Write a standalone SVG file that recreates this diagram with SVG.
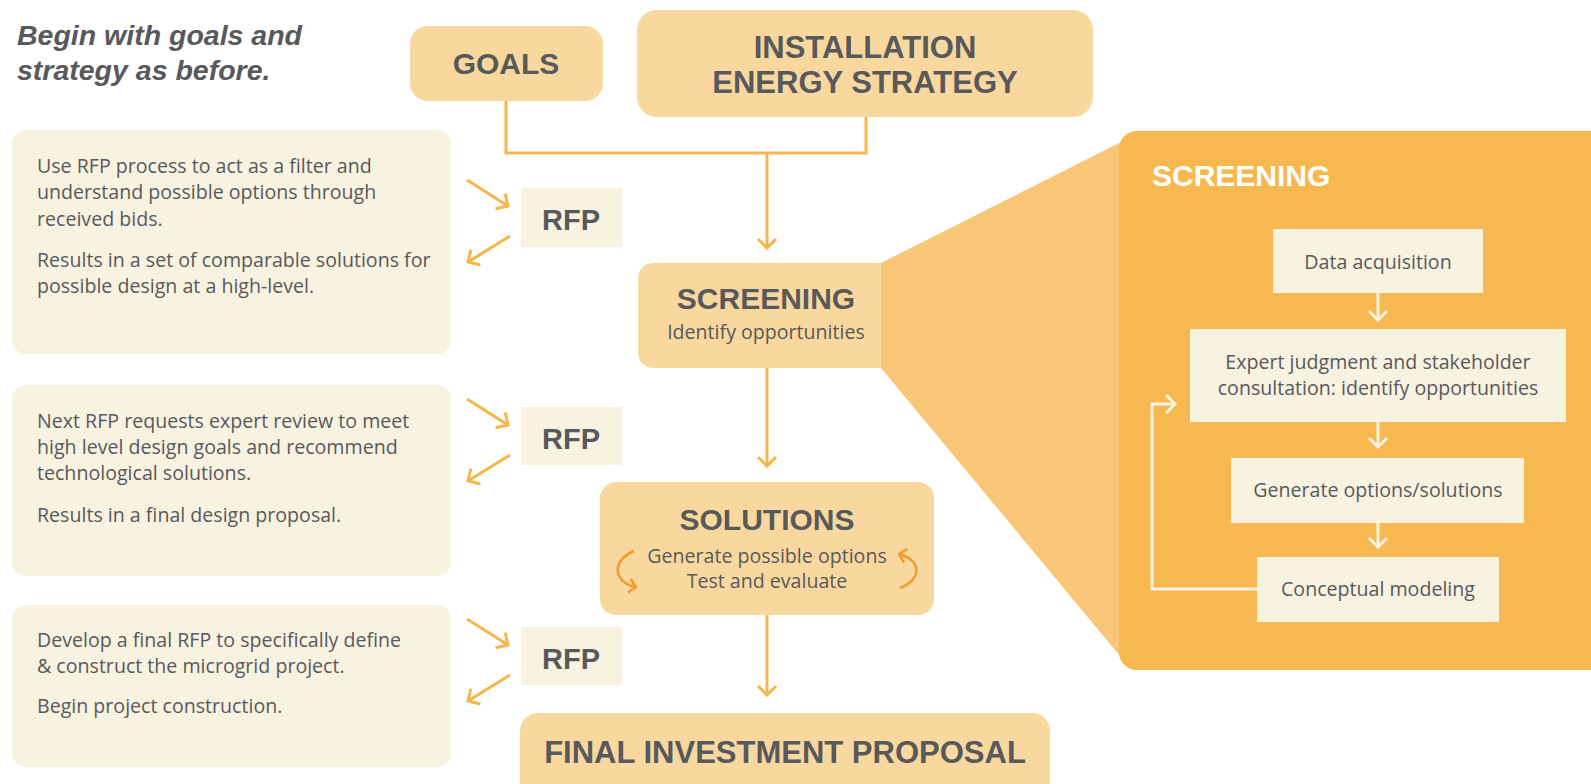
<svg xmlns="http://www.w3.org/2000/svg" width="1591" height="784" viewBox="0 0 1591 784">
<defs>
<style>
.head{font-family:"Liberation Sans",Arial,sans-serif;font-weight:bold;fill:#58595B;text-anchor:middle}
.body{font-family:"Open Sans","Liberation Sans",sans-serif;font-size:19.6px;fill:#58595B}
.mid{text-anchor:middle}
.node{fill:#F8D89E}
.panel{fill:#F8F2E1}
.conn{fill:none;stroke:#F7B64C;stroke-width:3}
.inner{fill:none;stroke:#F8F2E1;stroke-width:3}
.cyc{fill:none;stroke:#F39A2B;stroke-width:2.5}
</style>
<marker id="ah" viewBox="-11 -11 13 22" refX="0" refY="0" markerWidth="13" markerHeight="22" orient="auto" markerUnits="userSpaceOnUse">
<path d="M-9,-9 L0,0 L-9,9" fill="none" stroke="#F7B64C" stroke-width="3"/>
</marker>
<marker id="ahi" viewBox="-11 -11 13 22" refX="0" refY="0" markerWidth="13" markerHeight="22" orient="auto" markerUnits="userSpaceOnUse">
<path d="M-9,-9 L0,0 L-9,9" fill="none" stroke="#F8F2E1" stroke-width="3"/>
</marker>
<marker id="ahc" viewBox="-9 -9 11 18" refX="0" refY="0" markerWidth="11" markerHeight="18" orient="auto" markerUnits="userSpaceOnUse">
<path d="M-7,-7 L0,0 L-7,7" fill="none" stroke="#F39A2B" stroke-width="2.5"/>
</marker>
</defs>
<rect width="1591" height="784" fill="#FFFFFF"/>

<g id="intro">
<text x="17" y="45" font-family="'Liberation Sans',Arial,sans-serif" font-size="28.5" font-weight="bold" font-style="italic" fill="#58595B">Begin with goals and</text>
<text x="17" y="80" font-family="'Liberation Sans',Arial,sans-serif" font-size="28.5" font-weight="bold" font-style="italic" fill="#58595B">strategy as before.</text>
</g>

<g id="screening-detail-bg">
<polygon points="881,263 1125,140 1125,662 881,368" fill="#F9C677"/>
<rect x="1119" y="131" width="500" height="539" rx="18" fill="#F7B84F"/>
<text x="1152" y="186" font-family="'Liberation Sans',Arial,sans-serif" font-size="30" font-weight="bold" fill="#FFFFFF">SCREENING</text>
</g>

<g id="goals">
<rect class="node" x="410" y="26" width="193" height="75" rx="18"/>
<text class="head" x="506" y="74" font-size="30">GOALS</text>
</g>

<g id="strategy">
<rect class="node" x="637" y="10" width="456" height="107" rx="20"/>
<text class="head" x="865" y="58" font-size="31">INSTALLATION</text>
<text class="head" x="865" y="93" font-size="31">ENERGY STRATEGY</text>
</g>

<g id="screening">
<path class="node" d="M881,263 L881,368 L655,368 Q638,368 638,351 L638,280 Q638,263 655,263 Z"/>
<text class="head" x="766" y="309" font-size="30">SCREENING</text>
<text class="body mid" x="766" y="339">Identify opportunities</text>
</g>

<g id="solutions">
<rect class="node" x="600" y="482" width="334" height="133" rx="16"/>
<text class="head" x="767" y="530" font-size="30">SOLUTIONS</text>
<text class="body mid" x="767" y="563">Generate possible options</text>
<text class="body mid" x="767" y="588">Test and evaluate</text>
</g>

<g id="final">
<rect class="node" x="520" y="713" width="530" height="90" rx="18"/>
<text class="head" x="785" y="763" font-size="31">FINAL INVESTMENT PROPOSAL</text>
</g>

<g id="panel1">
<rect class="panel" x="12" y="130" width="439" height="224" rx="14"/>
<text class="body" x="37" y="173">Use RFP process to act as a filter and</text>
<text class="body" x="37" y="199">understand possible options through</text>
<text class="body" x="37" y="226">received bids.</text>
<text class="body" x="37" y="267">Results in a set of comparable solutions for</text>
<text class="body" x="37" y="293">possible design at a high-level.</text>
</g>

<g id="panel2">
<rect class="panel" x="12" y="385" width="439" height="191" rx="14"/>
<text class="body" x="37" y="428">Next RFP requests expert review to meet</text>
<text class="body" x="37" y="454">high level design goals and recommend</text>
<text class="body" x="37" y="480">technological solutions.</text>
<text class="body" x="37" y="522">Results in a final design proposal.</text>
</g>

<g id="panel3">
<rect class="panel" x="12" y="605" width="439" height="162" rx="14"/>
<text class="body" x="37" y="647">Develop a final RFP to specifically define</text>
<text class="body" x="37" y="673">&amp; construct the microgrid project.</text>
<text class="body" x="37" y="713">Begin project construction.</text>
</g>

<g id="rfp1">
<rect class="panel" x="521" y="188" width="101" height="59"/>
<text class="head" x="571" y="230" font-size="29">RFP</text>
</g>
<g id="rfp2">
<rect class="panel" x="521" y="407" width="101" height="58"/>
<text class="head" x="571" y="449" font-size="29">RFP</text>
</g>
<g id="rfp3">
<rect class="panel" x="521" y="627" width="101" height="58"/>
<text class="head" x="571" y="669" font-size="29">RFP</text>
</g>

<g id="data">
<rect class="panel" x="1273" y="229" width="210" height="64"/>
<text class="body mid" x="1378" y="269">Data acquisition</text>
</g>
<g id="expert">
<rect class="panel" x="1190" y="329" width="376" height="93"/>
<text class="body mid" x="1378" y="369">Expert judgment and stakeholder</text>
<text class="body mid" x="1378" y="395">consultation: identify opportunities</text>
</g>
<g id="generate">
<rect class="panel" x="1231" y="458" width="293" height="65"/>
<text class="body mid" x="1378" y="497">Generate options/solutions</text>
</g>
<g id="conceptual">
<rect class="panel" x="1257" y="557" width="242" height="65"/>
<text class="body mid" x="1378" y="596">Conceptual modeling</text>
</g>

<g id="connectors">
<polyline class="conn" points="506,101 506,153 866,153 866,117"/>
<line class="conn" x1="767" y1="153" x2="767" y2="248" marker-end="url(#ah)"/>
<line class="conn" x1="767" y1="368" x2="767" y2="466" marker-end="url(#ah)"/>
<line class="conn" x1="767" y1="615" x2="767" y2="695" marker-end="url(#ah)"/>

<line class="conn" x1="467" y1="180" x2="508" y2="206" marker-end="url(#ah)"/>
<line class="conn" x1="510" y1="236" x2="468" y2="262" marker-end="url(#ah)"/>
<line class="conn" x1="467" y1="399" x2="508" y2="425" marker-end="url(#ah)"/>
<line class="conn" x1="510" y1="455" x2="468" y2="481" marker-end="url(#ah)"/>
<line class="conn" x1="467" y1="619" x2="508" y2="645" marker-end="url(#ah)"/>
<line class="conn" x1="510" y1="675" x2="468" y2="701" marker-end="url(#ah)"/>

<path class="cyc" d="M634,551 C612,560 612,582 636,587" marker-end="url(#ahc)"/>
<path class="cyc" d="M900,588 C922,580 922,560 899,554" marker-end="url(#ahc)"/>

<line class="inner" x1="1378" y1="293" x2="1378" y2="320" marker-end="url(#ahi)"/>
<line class="inner" x1="1378" y1="422" x2="1378" y2="447" marker-end="url(#ahi)"/>
<line class="inner" x1="1378" y1="523" x2="1378" y2="547" marker-end="url(#ahi)"/>
<polyline class="inner" points="1257,589 1152,589 1152,404 1175,404" marker-end="url(#ahi)"/>
</g>
</svg>
